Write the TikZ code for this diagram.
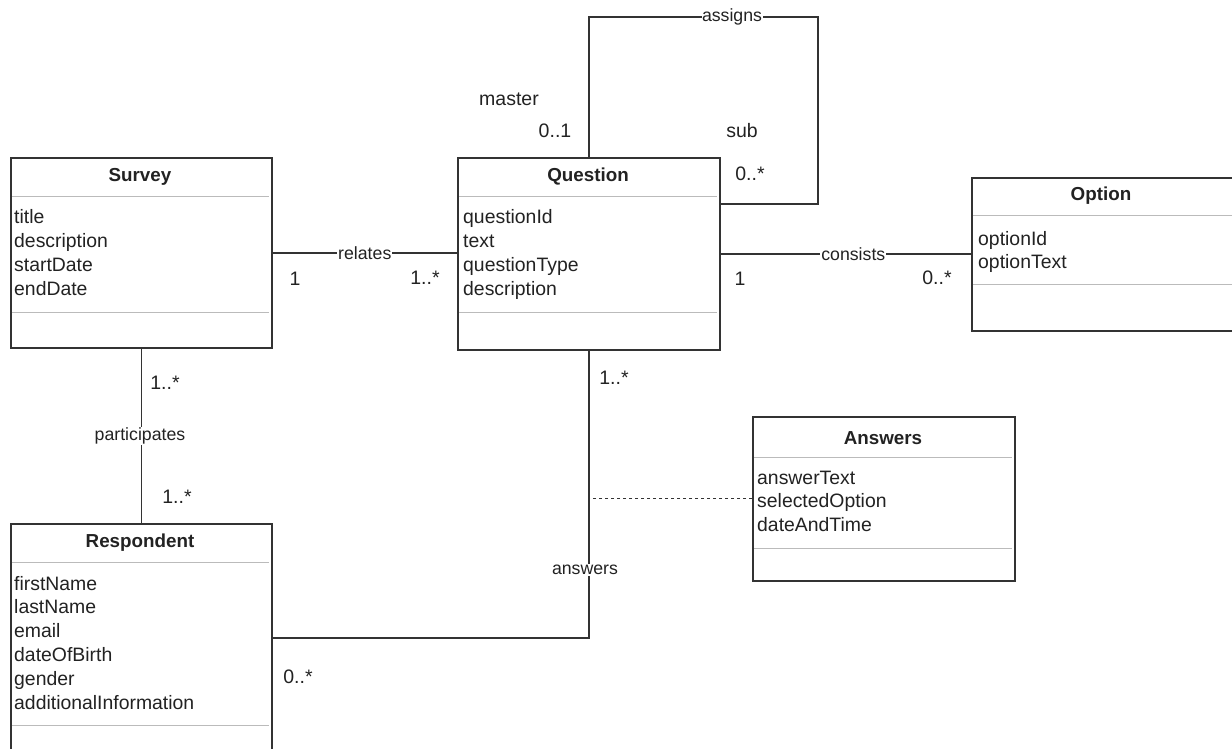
\documentclass[tikz,border=0pt]{standalone}
\usepackage{fontspec}
\setmainfont{Liberation Sans}
\definecolor{ink}{HTML}{222222}
\definecolor{edge}{HTML}{333333}
\definecolor{divider}{HTML}{BBBBBB}
\begin{document}
\begin{tikzpicture}[x=1pt,y=-1pt,
  classbox/.style={draw=edge, line width=1.6pt, fill=white, rectangle, inner sep=0pt, anchor=north west},
  ctitle/.style={font=\fontsize{18.8}{22}\selectfont\bfseries, text=ink, inner sep=0pt},
  attr/.style={font=\fontsize{19.4}{22}\selectfont, text=ink, inner sep=0pt, anchor=west, text height=14pt, text depth=4pt},
  mult/.style={font=\fontsize{19.5}{22}\selectfont, text=ink, inner sep=0pt},
  rel/.style={font=\fontsize{17.7}{21}\selectfont, text=ink, fill=white, inner sep=1pt},
  conn/.style={draw=edge, line width=1.5pt},
  dividerline/.style={draw=divider, line width=0.8pt}]
\useasboundingbox (0,0) rectangle (1232,748);
\fill[white] (0,0) rectangle (1232,748);

% class boxes
\node[classbox, minimum width=261pt, minimum height=190pt] (survey) at (10,157) {};
\node[classbox, minimum width=262pt, minimum height=192pt] (question) at (457,157) {};
\node[classbox, minimum width=262pt, minimum height=153pt] (option) at (971,177) {};
\node[classbox, minimum width=262pt, minimum height=164pt] (answers) at (752,416) {};
\node[classbox, minimum width=261pt, minimum height=228pt] (respondent) at (10,523) {};

% dividers
\draw[dividerline] (12,196) -- (269,196) (12,312) -- (269,312);
\draw[dividerline] (459,196) -- (717,196) (459,312) -- (717,312);
\draw[dividerline] (973,215) -- (1232,215) (973,284) -- (1232,284);
\draw[dividerline] (754,457) -- (1012,457) (754,548) -- (1012,548);
\draw[dividerline] (12,562) -- (269,562) (12,725) -- (269,725);

% titles
\node[ctitle] (surveyT) at (140,177) {Survey};
\node[ctitle] (questionT) at (588,177) {Question};
\node[ctitle] (optionT) at (1101,196) {Option};
\node[ctitle] (answersT) at (883,438) {Answers};
\node[ctitle] (respondentT) at (140,543) {Respondent};

% attributes
\foreach \t [count=\i] in {title,description,startDate,endDate}
  \node[attr] (sa\i) at (14,{218+(\i-1)*24}) {\t};
\foreach \t [count=\i] in {questionId,text,questionType,description}
  \node[attr] (qa\i) at (463,{218+(\i-1)*24}) {\t};
\foreach \t [count=\i] in {optionId,optionText}
  \node[attr] (oa\i) at (978,{240+(\i-1)*23.5}) {\t};
\foreach \t [count=\i] in {answerText,selectedOption,dateAndTime}
  \node[attr] (aa\i) at (757,{479+(\i-1)*23.5}) {\t};
\foreach \t [count=\i] in {firstName,lastName,email,dateOfBirth,gender,additionalInformation}
  \node[attr] (ra\i) at (14,{585+(\i-1)*23.8}) {\t};

% connectors
\draw[conn] (survey.east) -- (survey.east -| question.west)
  node[rel, pos=0.5] (relL) {relates};
\draw[conn] (question.east) -- (question.east -| option.west)
  node[rel, pos=0.53] (consL) {consists};
\coordinate (loopTR) at (818,17);
\coordinate (loopBR) at (818,204);
\draw[conn] (question.north) |- (loopTR) -- (loopBR) -- (loopBR -| question.east);
\node[rel, inner sep=0.5pt] (assignsL) at (732,17) {assigns};
\draw[conn] (survey.south) -- (respondent.north);
\node[rel] (partL) at (140,436) {participates};
\draw[conn] (question.south) |- (respondent.east);
\node[rel] (ansL) at (585,570) {answers};
\draw[draw=edge, line width=1.2pt, dash pattern=on 3pt off 3pt] (answers.west) -- (answers.west -| question.south);

% multiplicities and roles
\node[mult] (m1) at (295,279) {1};
\node[mult] (m2) at (425,278) {1..*};
\node[mult] (m3) at (740,279) {1};
\node[mult] (m4) at (937,278) {0..*};
\node[mult] (m5) at (509,99) {master};
\node[mult] (m6) at (555,131) {0..1};
\node[mult] (m7) at (742,131) {sub};
\node[mult] (m8) at (750,174) {0..*};
\node[mult] (m9) at (165,383) {1..*};
\node[mult] (m10) at (177,497) {1..*};
\node[mult] (m11) at (614,378) {1..*};
\node[mult] (m12) at (298,677) {0..*};
\end{tikzpicture}
\end{document}
